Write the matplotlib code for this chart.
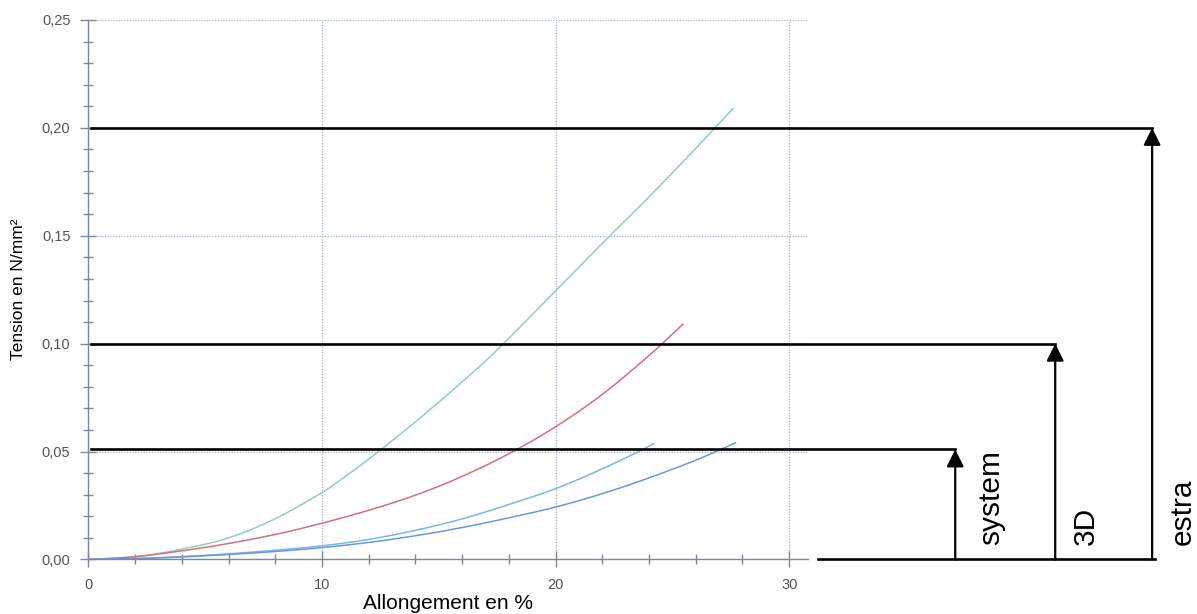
"""Tensile curves with reference levels drawn beside the plot"""
import matplotlib
matplotlib.use("Agg")
import matplotlib.pyplot as plt
import numpy as np
from matplotlib.ticker import FuncFormatter, MultipleLocator

plt.rcParams['font.family'] = ['Liberation Sans', 'DejaVu Sans']

# elongation (%) / stress (N/mm²)
green_x = [0, 2, 4, 6, 8, 10, 11, 12, 13, 14, 15, 16, 17, 18, 19, 20, 22, 24, 26, 27.6]
green_y = [0, 0.0012, 0.0048, 0.010, 0.0189, 0.031, 0.0385, 0.0465, 0.055, 0.0638, 0.0729,
           0.0823, 0.092, 0.1025, 0.1135, 0.1245, 0.1465, 0.168, 0.1905, 0.209]
red_x = [0, 2, 4, 6, 8, 10, 12, 14, 16, 18, 20, 22, 24, 25.45]
red_y = [0, 0.0013, 0.0040, 0.0074, 0.0116, 0.0168, 0.0228, 0.0298, 0.0385, 0.049, 0.0615,
         0.0765, 0.0945, 0.109]
blue1_x = [0, 2, 4, 6, 8, 10, 12, 14, 16, 18, 20, 22, 23.7, 24.2]
blue1_y = [0, 0.0004, 0.0013, 0.0026, 0.0043, 0.0063, 0.0093, 0.0135, 0.0188, 0.0255, 0.0328,
           0.042, 0.0508, 0.0537]
blue2_x = [0, 2, 4, 6, 8, 10, 12, 14, 16, 18, 20, 22, 24, 26, 27.7]
blue2_y = [0, 0.0004, 0.0012, 0.0023, 0.0037, 0.0055, 0.0079, 0.0110, 0.0148, 0.0193, 0.0243,
           0.0305, 0.0378, 0.046, 0.054]

# reference levels and their labels
levels = [0.051, 0.10, 0.20]
level_labels = ["system", "3D", "estra"]


def smooth(xs, ys, steps=20):
    """Catmull-Rom path through the given points."""
    p = np.column_stack([xs, ys]).astype(float)
    p = np.vstack([2 * p[0] - p[1], p, 2 * p[-1] - p[-2]])
    t = np.linspace(0, 1, steps, endpoint=False)[:, None]
    out = []
    for i in range(1, len(p) - 2):
        p0, p1, p2, p3 = p[i - 1], p[i], p[i + 1], p[i + 2]
        out.append(0.5 * (2 * p1 + (p2 - p0) * t + (2 * p0 - 5 * p1 + 4 * p2 - p3) * t ** 2
                          + (3 * p1 - p0 - 3 * p2 + p3) * t ** 3))
    out.append(p[-2][None, :])
    out = np.vstack(out)
    return out[:, 0], out[:, 1]


fig = plt.figure(figsize=(11.97, 6.14), dpi=100)
ax = fig.add_axes([0.0739, 0.0888, 0.601, 0.8787])

axis_col = '#7d8898'
ax.set_xlim(0, 30.8)
ax.set_ylim(0, 0.25)
for side in ('top', 'right'):
    ax.spines[side].set_visible(False)
for side in ('left', 'bottom'):
    ax.spines[side].set_color(axis_col)
    ax.spines[side].set_linewidth(1.0)

ax.xaxis.set_major_locator(MultipleLocator(10))
ax.xaxis.set_minor_locator(MultipleLocator(2))
ax.yaxis.set_major_locator(MultipleLocator(0.05))
ax.yaxis.set_minor_locator(MultipleLocator(0.01))
ax.yaxis.set_major_formatter(FuncFormatter(lambda v, p: f"{v:.2f}".replace('.', ',')))
ax.xaxis.set_major_formatter(FuncFormatter(lambda v, p: f"{v:.0f}"))
ax.tick_params(which='both', direction='inout', color=axis_col, width=1.0,
               labelcolor='#555555', labelsize=10.5)
ax.tick_params(which='major', length=12, pad=7)
ax.tick_params(which='minor', length=7.5)
ax.grid(True, which='major', color='#a8b4c8', linestyle=(0, (1, 1.2)), linewidth=0.9)

for xs, ys, col in [(green_x, green_y, '#92d0b4'), (red_x, red_y, '#d4707c'),
                    (blue1_x, blue1_y, '#7ab6e6'), (blue2_x, blue2_y, '#6a98dc')]:
    sx, sy = smooth(xs, ys)
    ax.plot(sx, sy, color=col, lw=1.1)

ax.set_xlabel("Allongement en %", fontsize=15, labelpad=2)
ax.set_ylabel("Tension en N/mm²", fontsize=12.5, labelpad=11)

# horizontal level lines running out to the arrows on the right
arrow_x = [37.11, 41.39, 45.54]
text_x = [38.65, 42.72, 46.85]
for level, ax_x, tx, label in zip(levels, arrow_x, text_x, level_labels):
    ax.plot([0.12, ax_x], [level, level], color='black', lw=1.9, clip_on=False, zorder=5)
    ax.annotate('', xy=(ax_x, level), xytext=(ax_x, 0), annotation_clip=False,
                arrowprops=dict(arrowstyle='-|>', color='black', lw=1.6,
                                mutation_scale=26, shrinkA=0, shrinkB=0))
    ax.text(tx, 0.0065, label, rotation=90, ha='center', va='bottom',
            fontsize=21.5, color='black', clip_on=False)
ax.plot([31.24, 45.68], [0, 0], color='black', lw=1.9, clip_on=False, zorder=5)

fig.savefig('out.png', dpi=100)
